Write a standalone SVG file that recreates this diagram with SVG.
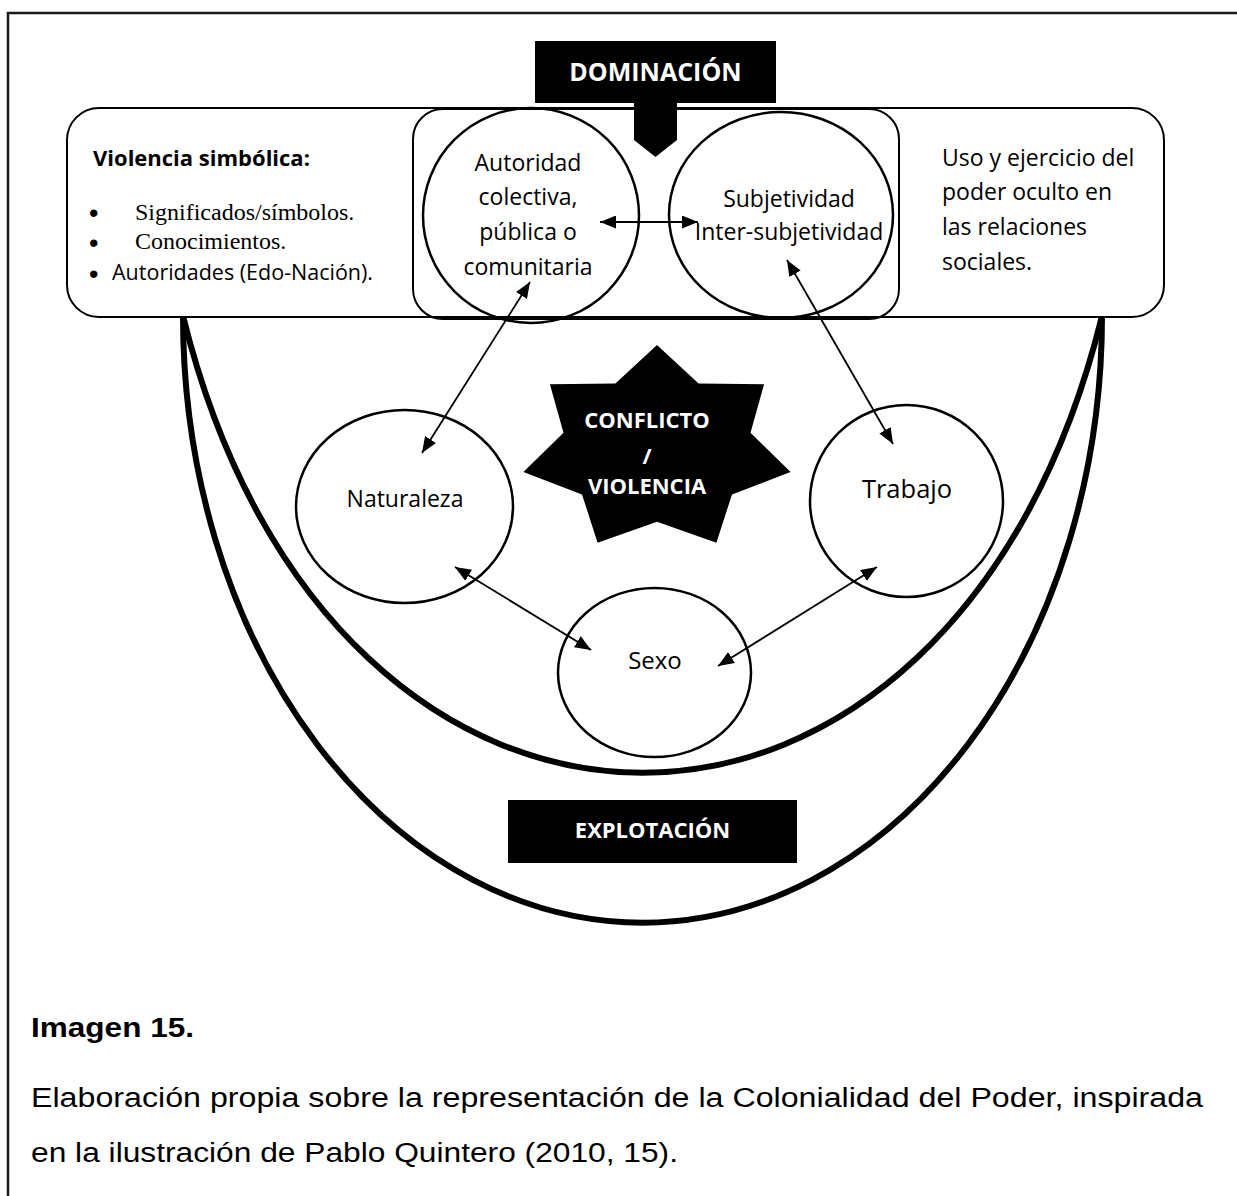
<svg xmlns="http://www.w3.org/2000/svg" width="1237" height="1196" viewBox="0 0 1237 1196">
<defs>
<style>
.frame{fill:#fff;stroke:#1a1a1a;stroke-width:2.5}
.box{fill:#fff;stroke:#000;stroke-width:2}
.mid{fill:none;stroke:#000;stroke-width:2}
.node{fill:none;stroke:#000;stroke-width:2.5}
.u{fill:none;stroke:#000;stroke-width:6}
.blk{fill:#000}
.t{font-family:"Open Sans","Lato",sans-serif;font-size:23px;fill:#000}
.c{text-anchor:middle}
.b{font-weight:bold}
.w{fill:#fff}
.serif{font-family:"Liberation Serif","Times New Roman",serif;font-size:24px;fill:#000}
.bul{font-family:"Liberation Sans",Arial,sans-serif;font-size:27px;fill:#000}
.cap{font-family:"Liberation Sans",Arial,sans-serif;font-size:27px;fill:#000}
.conn line{stroke:#000;stroke-width:1.8;marker-start:url(#ah);marker-end:url(#ah)}
</style>
<marker id="ah" viewBox="0 0 16 13" refX="16" refY="6.5" markerWidth="16" markerHeight="13" markerUnits="userSpaceOnUse" orient="auto-start-reverse"><path d="M0,0 L16,6.5 L0,13 z" fill="#000"/></marker>
</defs>
<rect x="0" y="0" width="1237" height="1196" fill="#fff"/>
<rect class="frame" x="8" y="13" width="1260" height="1220"/>

<g id="explotacion-curves">
<path class="u" d="M183,316 A459,606 0 0 0 1102,316"/>
<path class="u" d="M183,316 C333,925 952,925 1102,316"/>
</g>

<g id="panel">
<rect class="box" x="67" y="108" width="1097" height="209" rx="32" ry="32"/>
<rect class="mid" x="413" y="109" width="486" height="210" rx="30" ry="30"/>
</g>

<g id="violencia-simbolica">
<text class="t b" x="93" y="166" style="font-size:22px">Violencia simbólica:</text>
<text class="bul" x="89" y="222">•</text>
<text class="serif" x="135" y="220">Significados/símbolos.</text>
<text class="bul" x="89" y="252">•</text>
<text class="serif" x="135" y="249">Conocimientos.</text>
<text class="bul" x="89" y="283">•</text>
<text class="t" x="112" y="280" style="font-size:21.5px">Autoridades (Edo-Nación).</text>
</g>

<g id="uso-poder">
<text class="t" x="942" y="166">Uso y ejercicio del</text>
<text class="t" x="942" y="200">poder oculto en</text>
<text class="t" x="942" y="235">las relaciones</text>
<text class="t" x="942" y="270">sociales.</text>
</g>

<g id="dominacion">
<rect class="blk" x="535" y="41" width="241" height="62"/>
<polygon class="blk" points="634,102 677,102 677,140 655.5,157 634,140"/>
<text class="t b w c" x="655.5" y="81" style="font-size:25px">DOMINACIÓN</text>
</g>

<g id="autoridad">
<ellipse class="node" cx="531" cy="215.5" rx="108" ry="107.5"/>
<text class="t c" x="528" y="171">Autoridad</text>
<text class="t c" x="528" y="205">colectiva,</text>
<text class="t c" x="528" y="240">pública o</text>
<text class="t c" x="528" y="275">comunitaria</text>
</g>

<g id="subjetividad">
<ellipse class="node" cx="781" cy="215" rx="112" ry="103"/>
<text class="t c" x="789" y="207">Subjetividad</text>
<text class="t c" x="789" y="240">Inter-subjetividad</text>
</g>

<g id="conflicto">
<polygon class="blk" points="657,345 698.6,383.4 764.1,384.2 750.5,432.8 790.6,472.1 732,494.4 716.4,542.7 657,521.8 597.6,542.7 582,494.4 523.4,472.1 563.5,432.8 549.9,384.2 615.4,383.4"/>
<text class="t b w c" x="647" y="428" style="font-size:22px">CONFLICTO</text>
<text class="t b w c" x="647" y="464" style="font-size:22px">/</text>
<text class="t b w c" x="647" y="494" style="font-size:22px">VIOLENCIA</text>
</g>

<g id="naturaleza">
<ellipse class="node" cx="404.5" cy="506.5" rx="108.5" ry="96.5"/>
<text class="t c" x="405" y="507">Naturaleza</text>
</g>

<g id="trabajo">
<ellipse class="node" cx="906.5" cy="501" rx="96.5" ry="96"/>
<text class="t c" x="907" y="498" style="font-size:25.5px">Trabajo</text>
</g>

<g id="sexo">
<ellipse class="node" cx="654.5" cy="672.5" rx="96.5" ry="84.5"/>
<text class="t c" x="655" y="669" style="font-size:24px">Sexo</text>
</g>

<g id="explotacion">
<rect class="blk" x="508" y="800" width="289" height="63"/>
<text class="t b w c" x="652.5" y="838" style="font-size:22px">EXPLOTACIÓN</text>
</g>

<g id="connectors" class="conn">
<line x1="600" y1="222" x2="698" y2="222"/>
<line x1="530" y1="282" x2="422" y2="453"/>
<line x1="787" y1="260" x2="893" y2="444"/>
<line x1="455" y1="567" x2="591" y2="650"/>
<line x1="877" y1="567" x2="718" y2="666"/>
</g>

<g id="caption">
<text class="cap b" x="31" y="1037" textLength="163" lengthAdjust="spacingAndGlyphs">Imagen 15.</text>
<text class="cap" x="31" y="1107" textLength="1172" lengthAdjust="spacingAndGlyphs">Elaboración propia sobre la representación de la Colonialidad del Poder, inspirada</text>
<text class="cap" x="31" y="1162" textLength="647" lengthAdjust="spacingAndGlyphs">en la ilustración de Pablo Quintero (2010, 15).</text>
</g>
</svg>
